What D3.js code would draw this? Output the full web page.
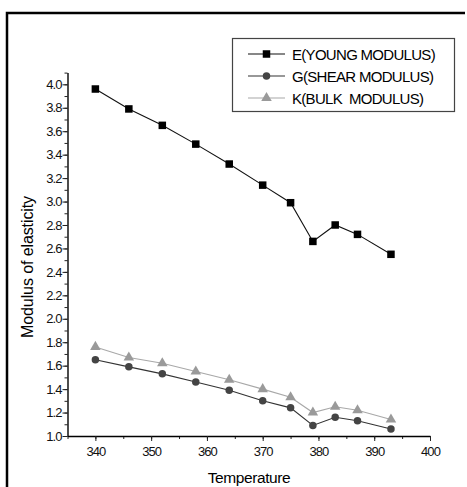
<!DOCTYPE html>
<html>
<head>
<meta charset="utf-8">
<script src="https://cdn.jsdelivr.net/npm/d3@7"></script>
<style>
  body { margin: 0; background: #fff; }
  svg { display: block; font-family: Arial, "Liberation Sans", sans-serif; }
</style>
</head>
<body>
<svg class="chart"></svg>
<script>
const width = 467;
const height = 487;

// Data
const temperature = [340, 346, 352, 358, 364, 370, 375, 379, 383, 387, 393];
const youngModulus = [3.96, 3.79, 3.65, 3.49, 3.32, 3.14, 2.99, 2.66, 2.80, 2.72, 2.55];
const shearModulus = [1.65, 1.59, 1.53, 1.46, 1.39, 1.30, 1.24, 1.09, 1.16, 1.13, 1.06];
const bulkModulus = [1.76, 1.67, 1.62, 1.55, 1.48, 1.40, 1.33, 1.20, 1.25, 1.22, 1.14];
const seriesNames = ['E(YOUNG MODULUS)', 'G(SHEAR MODULUS)', 'K(BULK  MODULUS)'];
const xTicks = [340, 350, 360, 370, 380, 390, 400];
const yTicks = [1.0, 1.2, 1.4, 1.6, 1.8, 2.0, 2.2, 2.4, 2.6, 2.8, 3.0, 3.2, 3.4, 3.6, 3.8, 4.0];

const series = [
    { name: seriesNames[0], values: youngModulus, marker: 'square', fill: '#000', line: '#111' },
    { name: seriesNames[1], values: shearModulus, marker: 'circle', fill: '#444', line: '#333' },
    { name: seriesNames[2], values: bulkModulus, marker: 'triangle', fill: '#9a9a9a', line: '#a8a8a8' }
];

const svg = d3.select('.chart')
    .attr('width', width)
    .attr('height', height);

// outer frame (left and top edges visible)
svg.append('path')
    .attr('d', 'M7,490 V13 H465')
    .attr('fill', 'none')
    .attr('stroke', '#000')
    .attr('stroke-width', 2.5);

// Scales
const xScale = d3.scaleLinear()
    .domain([335, 400])
    .range([67.5, 430]);

const yScale = d3.scaleLinear()
    .domain([1.0, 4.1])
    .range([436, 72.6]);

// X axis: major + minor ticks
const xMinor = d3.range(335, 401, 5);
svg.append('g')
    .attr('transform', 'translate(0,436)')
    .call(d3.axisBottom(xScale).tickValues(xMinor).tickSize(3).tickFormat(''))
    .call(g => g.select('.domain').remove());

const xAxis = svg.append('g')
    .attr('id', 'x-axis')
    .attr('transform', 'translate(0,436)')
    .call(d3.axisBottom(xScale).tickValues(xTicks).tickSize(5).tickSizeOuter(0).tickPadding(6));

xAxis.select('.domain').attr('stroke-width', 1.4);
xAxis.selectAll('text')
    .attr('font-size', 13)
    .attr('font-family', 'Arial, "Liberation Sans", sans-serif')
    .attr('letter-spacing', -0.9)
    .attr('fill', '#111');

// Y axis: major + minor ticks
const yMinor = d3.range(10, 42).map(d => d / 10);
svg.append('g')
    .attr('transform', 'translate(67.5,0)')
    .call(d3.axisLeft(yScale).tickValues(yMinor).tickSize(3).tickFormat(''))
    .call(g => g.select('.domain').remove());

const yAxis = svg.append('g')
    .attr('id', 'y-axis')
    .attr('transform', 'translate(67.5,0)')
    .call(d3.axisLeft(yScale).tickValues(yTicks).tickSize(5).tickSizeOuter(0).tickPadding(1).tickFormat(d3.format('.1f')));

yAxis.select('.domain').attr('stroke-width', 1.4);
yAxis.selectAll('text')
    .attr('font-size', 13)
    .attr('font-family', 'Arial, "Liberation Sans", sans-serif')
    .attr('letter-spacing', -0.9)
    .attr('fill', '#111');

svg.selectAll('.tick line').attr('stroke', '#222');

// Axis titles
svg.append('text')
    .attr('x', 249)
    .attr('y', 483)
    .attr('text-anchor', 'middle')
    .attr('font-size', 15.5)
    .attr('letter-spacing', -0.4)
    .text('Temperature');

svg.append('text')
    .attr('transform', 'translate(33,267) rotate(-90)')
    .attr('text-anchor', 'middle')
    .attr('font-size', 16)
    .attr('letter-spacing', -0.1)
    .text('Modulus of elasticity');

// Markers
function drawMarker(sel, type, fill, size) {
    if (type === 'square') {
        sel.append('rect')
            .attr('x', -size / 2)
            .attr('y', -size / 2)
            .attr('width', size)
            .attr('height', size)
            .attr('fill', fill);
    } else if (type === 'circle') {
        sel.append('circle')
            .attr('r', size / 2)
            .attr('fill', fill);
    } else {
        sel.append('path')
            .attr('d', d3.symbol(d3.symbolTriangle, size * size * 0.85)())
            .attr('fill', fill);
    }
}

const line = d3.line()
    .x((d, i) => xScale(temperature[i]))
    .y(d => yScale(d));

series.forEach(s => {
    svg.append('path')
        .datum(s.values)
        .attr('d', line)
        .attr('fill', 'none')
        .attr('stroke', s.line)
        .attr('stroke-width', 1.1);

    s.values.forEach((v, i) => {
        const g = svg.append('g')
            .attr('transform', `translate(${xScale(temperature[i])},${yScale(v)})`);
        drawMarker(g, s.marker, s.fill, 7.5);
    });
});

// Legend
const legend = svg.append('g');
legend.append('rect')
    .attr('x', 232.5)
    .attr('y', 38.5)
    .attr('width', 222)
    .attr('height', 73)
    .attr('fill', '#fff')
    .attr('stroke', '#444')
    .attr('stroke-width', 1.2);

series.forEach((s, i) => {
    const y = 54 + i * 22;
    legend.append('line')
        .attr('x1', 248)
        .attr('x2', 285)
        .attr('y1', y)
        .attr('y2', y)
        .attr('stroke', s.line)
        .attr('stroke-width', 1.1);
    const g = legend.append('g').attr('transform', `translate(266.5,${y})`);
    drawMarker(g, s.marker, s.fill, 7.5);
    legend.append('text')
        .attr('x', 292)
        .attr('y', y + 5.5)
        .attr('font-size', 15)
        .attr('letter-spacing', -0.7)
        .style('white-space', 'pre')
        .text(s.name);
});
</script>
</body>
</html>
